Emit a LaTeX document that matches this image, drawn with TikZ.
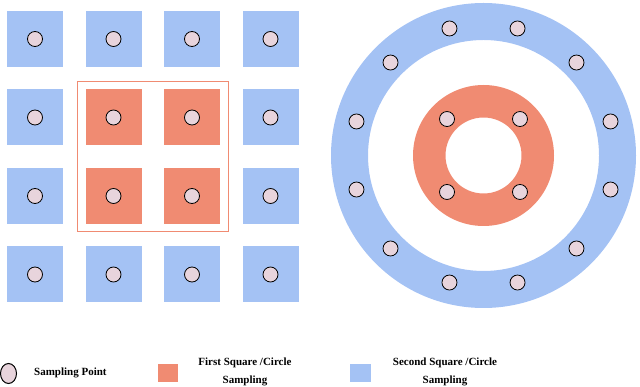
\documentclass[tikz,border=0pt]{standalone}
\usepackage{fontspec}
\setmainfont{Liberation Serif}
\usetikzlibrary{calc,shapes.geometric}
\definecolor{sblue}{RGB}{164,194,244}
\definecolor{sorange}{RGB}{240,139,114}
\definecolor{spink}{RGB}{232,212,220}
\begin{document}
\begin{tikzpicture}[x=1pt,y=-1pt,
  sq/.style={fill=#1, minimum size=56pt, inner sep=0pt, draw=none},
  spt/.style={circle, fill=spink, draw=black, line width=0.8pt, minimum size=15pt, inner sep=0pt},
  lbl/.style={font=\bfseries\fontsize{11}{18}\selectfont, align=center, inner sep=0pt}]
\useasboundingbox (0,0) rectangle (640,387);
% grid of squares
\foreach \i in {0,...,3}{
  \foreach \j in {0,...,3}{
    \pgfmathsetmacro{\cx}{35+78.5*\i}
    \pgfmathsetmacro{\cy}{39+78.5*\j}
    \def\col{sblue}
    \ifnum\i>0 \ifnum\i<3 \ifnum\j>0 \ifnum\j<3 \def\col{sorange}\fi\fi\fi\fi
    \node[sq=\col] (s\i\j) at (\cx,\cy) {};
    \node[spt] (p\i\j) at (s\i\j.center) {};
  }
}
\node[draw=sorange, line width=0.8pt, minimum width=151pt, minimum height=150pt, inner sep=0pt] (frame) at ($(s11.center)!0.5!(s22.center)$) {};
% rings
\coordinate (C) at (483.5,155.5);
\fill[sblue, even odd rule] (C) circle[radius=152.5] (C) circle[radius=115.5];
\fill[sorange, even odd rule] (C) circle[radius=70.5] (C) circle[radius=38];
\foreach \a [count=\k] in {15,45,...,345}{
  \node[spt] (o\k) at ($(C)+(\a:131.5)$) {};
}
\foreach \a [count=\k] in {45,135,225,315}{
  \node[spt] (n\k) at ($(C)+(\a:51.6)$) {};
}
% legend
\node[spt, ellipse, line width=1pt, minimum width=16pt, minimum height=20pt] (lpt) at (8.5,373.5) {};
\node[lbl, anchor=west] (lptt) at (34,373) {Sampling Point};
\node[fill=sorange, minimum width=20pt, minimum height=18pt, inner sep=0pt] (lor) at (168,373) {};
\node[lbl] (lort) at (245,372) {First Square /Circle\\Sampling};
\node[fill=sblue, minimum width=21pt, minimum height=18pt, inner sep=0pt] (lbl) at (360.5,373) {};
\node[lbl] (lblt) at (445,372) {Second Square /Circle\\Sampling};
\end{tikzpicture}
\end{document}
